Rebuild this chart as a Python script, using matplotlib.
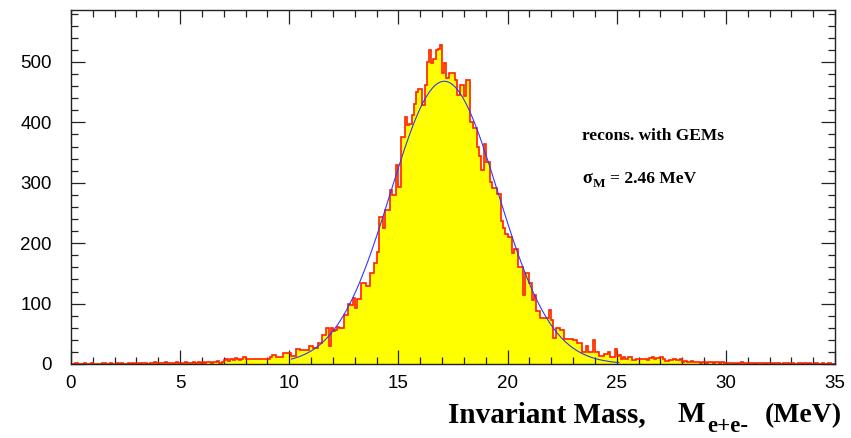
import matplotlib
matplotlib.use("Agg")
import matplotlib.pyplot as plt
import numpy as np
from matplotlib.ticker import MultipleLocator

# histogram: 350 bins of 0.1 MeV from 0 to 35 MeV, one row per MeV
x_min, x_max, n_bins = 0.0, 35.0, 350
counts = [
    0, 0, 1, 0, 0, 0, 1, 0, 0, 1,
    0, 0, 0, 0, 2, 1, 0, 0, 1, 0,
    0, 1, 0, 1, 0, 0, 1, 0, 1, 0,
    1, 0, 1, 2, 1, 0, 1, 2, 3, 1,
    1, 2, 1, 3, 2, 1, 2, 1, 3, 2,
    2, 1, 3, 2, 1, 2, 4, 2, 3, 2,
    3, 2, 4, 3, 2, 4, 3, 5, 2, 4,
    6, 8, 5, 9, 7, 10, 8, 6, 9, 11,
    9, 8, 8, 8, 8, 9, 9, 9, 9, 9,
    9, 12, 15, 15, 12, 12, 12, 19, 19, 19,
    18, 14, 14, 25, 25, 23, 23, 23, 23, 30,
    30, 26, 26, 34, 34, 48, 48, 59, 29, 59,
    55, 56, 62, 60, 60, 81, 81, 100, 98, 109,
    92, 107, 107, 134, 134, 129, 129, 151, 151, 167,
    186, 244, 244, 225, 255, 255, 288, 280, 280, 329,
    293, 376, 376, 409, 395, 398, 412, 431, 451, 455,
    456, 429, 462, 500, 520, 498, 505, 520, 522, 528,
    481, 498, 473, 481, 481, 481, 470, 445, 462, 462,
    443, 470, 470, 401, 390, 390, 360, 345, 321, 365,
    335, 335, 302, 291, 291, 282, 282, 236, 225, 216,
    211, 211, 183, 191, 191, 161, 161, 114, 150, 150,
    134, 106, 115, 87, 87, 76, 76, 76, 76, 89,
    73, 43, 60, 60, 57, 57, 42, 42, 42, 42,
    40, 40, 34, 34, 20, 20, 30, 20, 20, 40,
    20, 20, 13, 13, 17, 17, 20, 12, 12, 25,
    14, 15, 9, 11, 8, 11, 11, 7, 7, 8,
    8, 9, 8, 9, 7, 10, 11, 9, 10, 10,
    11, 9, 5, 5, 6, 7, 8, 6, 7, 8,
    4, 5, 3, 4, 5, 4, 3, 4, 2, 3,
    3, 2, 4, 3, 2, 3, 4, 2, 3, 1,
    2, 1, 2, 1, 0, 2, 1, 3, 1, 2,
    1, 2, 1, 0, 1, 2, 1, 1, 0, 2,
    1, 0, 1, 2, 1, 0, 1, 1, 2, 0,
    1, 0, 0, 1, 2, 0, 1, 0, 1, 0,
    0, 1, 0, 0, 1, 0, 0, 1, 0, 0,
]

# gaussian fit shown on the plot
fit_amp, fit_mean, fit_sigma = 468.0, 17.1, 2.46
fit_lo, fit_hi = 10.1, 25.1

x_ticks = [0, 5, 10, 15, 20, 25, 30, 35]
y_ticks = [0, 100, 200, 300, 400, 500]
y_top = 586

W, H = 851, 438
fig = plt.figure(figsize=(W / 100, H / 100), dpi=100)
ax = fig.add_axes([71 / W, 1 - 364 / H, (835 - 71) / W, (364 - 10) / H])

edges = np.linspace(x_min, x_max, n_bins + 1)
ax.stairs(counts, edges, fill=True, color="#ffff00", zorder=1)
ax.stairs(counts, edges, color="#ff2000", linewidth=1.2, zorder=2)

xf = np.linspace(fit_lo, fit_hi, 400)
yf = fit_amp * np.exp(-0.5 * ((xf - fit_mean) / fit_sigma) ** 2)
ax.plot(xf, yf, color="#3535ff", linewidth=0.8, zorder=3)

ax.set_xlim(x_min, x_max)
ax.set_ylim(0, y_top)
ax.set_xticks(x_ticks)
ax.set_yticks(y_ticks)
ax.xaxis.set_minor_locator(MultipleLocator(1))
ax.yaxis.set_minor_locator(MultipleLocator(20))
ax.tick_params(which="both", direction="in", top=True, right=True, color="#222222")
ax.tick_params(which="major", length=10, width=0.9)
ax.tick_params(which="minor", length=5, width=0.9)
ax.tick_params(axis="x", which="major", pad=8, labelsize=13.5)
ax.tick_params(axis="y", which="major", pad=14, labelsize=13.5)
for lab in ax.get_xticklabels() + ax.get_yticklabels():
    lab.set_family("Liberation Sans")
for sp in ax.spines.values():
    sp.set_linewidth(1.0)
    sp.set_color("#222222")


def px_text(x, y, s, size, ha="left"):
    fig.text(x / W, 1 - y / H, s, fontsize=size, family="Liberation Serif",
             fontweight="bold", ha=ha, va="baseline")


# axis title with subscript
px_text(448, 422, "Invariant Mass,", 21)
px_text(677, 422, "M", 21)
px_text(707, 432, "e+e-", 16.5)
px_text(842, 422, "(MeV)", 20, ha="right")

# annotations
px_text(582, 140, "recons. with GEMs", 12.5)
px_text(582, 183, "\u03c3", 13)
px_text(593, 187, "M", 9.5)
px_text(610, 183, "= 2.46 MeV", 12.5)

fig.savefig("out.png", dpi=100)
